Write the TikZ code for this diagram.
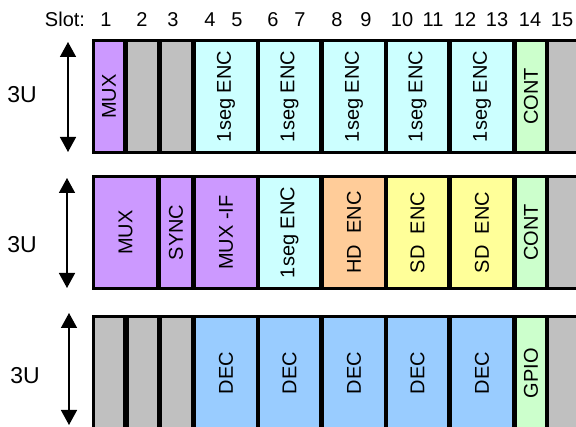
\documentclass[tikz,border=0pt]{standalone}
\usepackage{fontspec}
\setmainfont{Liberation Sans}
\usetikzlibrary{arrows.meta}

\definecolor{muxcol}{HTML}{CC99FF}
\definecolor{emptycol}{HTML}{C0C0C0}
\definecolor{segcol}{HTML}{CCFFFF}
\definecolor{contcol}{HTML}{CCFFCC}
\definecolor{hdcol}{HTML}{FFCC99}
\definecolor{sdcol}{HTML}{FFFF99}
\definecolor{deccol}{HTML}{99CCFF}

\begin{document}
\begin{tikzpicture}[x=1pt, y=-1pt,
        card/.style={rectangle, rotate=90, inner sep=0pt, minimum width=109pt, font=\fontsize{20}{24}\selectfont},
        slotnum/.style={anchor=base, inner sep=0pt, font=\fontsize{20}{24}\selectfont},
        rackheight/.style={line width=1.5pt, {Triangle[width=16pt, length=15pt]}-{Triangle[width=16pt, length=15pt]}},
        ulabel/.style={font=\fontsize{23}{26}\selectfont}]
        \clip (0,0) rectangle (576,427);

        % slot numbers
        \node[slotnum] (slot) at (65,27) {Slot:};
        \foreach \n/\xx in {1/106, 2/142, 3/173, 4/210, 5/237, 6/273, 7/300, 8/337, 9/366, 10/402, 11/433, 12/465, 13/497, 14/530, 15/562}
            \node[slotnum] (s\n) at (\xx,27) {\n};

        % racks
        \fill (92,39) rectangle (600,154);
        \fill (92,175) rectangle (600,290);
        \fill (92,315) rectangle (600,440);

        % upper rack
        \foreach \l/\r/\c/\t [count=\i] in {95/123/muxcol/MUX, 128/157/emptycol/{}, 162/191/emptycol/{}, 196/256/segcol/1seg ENC, 260/319/segcol/1seg ENC, 324/384/segcol/1seg ENC, 388/447/segcol/1seg ENC, 452/512/segcol/1seg ENC, 517/545/contcol/CONT, 549/600/emptycol/{}}
            \node[card, fill=\c, minimum height={(\r-\l)*1pt}] (a\i) at ({(\l+\r)/2},96.5) {\t};

        % middle rack
        \foreach \l/\r/\c/\t [count=\i] in {95/156/muxcol/MUX, 161/191/muxcol/SYNC, 196/256/muxcol/MUX -IF, 260/319/segcol/1seg ENC, 324/384/hdcol/HD~~ENC, 388/447/sdcol/SD~~ENC, 452/512/sdcol/SD~~ENC, 517/545/contcol/CONT, 549/600/emptycol/{}}
            \node[card, fill=\c, minimum height={(\r-\l)*1pt}] (b\i) at ({(\l+\r)/2},232.5) {\t};

        % lower rack
        \foreach \l/\r/\c/\t [count=\i] in {95/123/emptycol/{}, 129/157/emptycol/{}, 162/191/emptycol/{}, 196/256/deccol/DEC, 260/319/deccol/DEC, 324/384/deccol/DEC, 388/447/deccol/DEC, 452/512/deccol/DEC, 517/545/contcol/GPIO, 549/600/emptycol/{}}
            \node[card, fill=\c, minimum height={(\r-\l)*1pt}] (c\i) at ({(\l+\r)/2},373) {\t};

        % rack heights
        \coordinate (up1) at (68,42);  \coordinate (dn1) at (68,152);
        \coordinate (up2) at (67,178); \coordinate (dn2) at (67,288);
        \coordinate (up3) at (69,313); \coordinate (dn3) at (69,425);
        \draw[rackheight] (up1) -- (dn1);
        \draw[rackheight] (up2) -- (dn2);
        \draw[rackheight] (up3) -- (dn3);

        \node[ulabel] (h1) at (22,95) {3U};
        \node[ulabel] (h2) at (22,245) {3U};
        \node[ulabel] (h3) at (25,376) {3U};
\end{tikzpicture}
\end{document}
